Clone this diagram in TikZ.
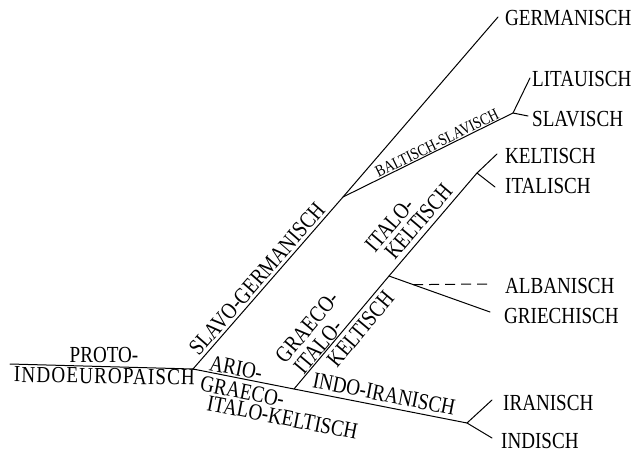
\documentclass[tikz,border=0pt]{standalone}
\usepackage{fontspec}
\setmainfont[FakeStretch=0.83]{Liberation Serif}
\usetikzlibrary{calc}
\begin{document}
\begin{tikzpicture}[x=1pt,y=-1pt,
  branch/.style={line width=1pt, line cap=round},
  albline/.style={line width=1pt, dash pattern=on 10pt off 6pt},
  leaf/.style={anchor=base west, inner sep=0pt, font=\fontsize{23}{25}\selectfont},
  lbl/.style={anchor=center, inner sep=0pt, font=\fontsize{23}{25}\selectfont},
  smalllbl/.style={anchor=center, inner sep=0pt, font=\fontsize{16.5}{18}\selectfont}]
\useasboundingbox (0,0) rectangle (637,455);

% branching points
\coordinate (root) at (10,364);
\coordinate (pie)  at (193,369);
\coordinate (sg)   at (343,197);
\coordinate (bs)   at (513,113);
\coordinate (agik) at (294,389);
\coordinate (gik)  at (389,276);
\coordinate (ik)   at (477,173);
\coordinate (ii)   at (467,423);

% free ends of the branches
\coordinate (eGer) at (498,17);
\coordinate (eLit) at (530,78);
\coordinate (eSla) at (528,116);
\coordinate (eKel) at (497,154);
\coordinate (eIta) at (495,187);
\coordinate (eGri) at (490,312);
\coordinate (eAlb) at (490,284);
\coordinate (eIra) at (492,400);
\coordinate (eInd) at (492,438);

% tree
\draw[branch] (root) -- (pie);
\draw[branch] (pie) -- (sg) -- (eGer);
\draw[branch] (sg) -- (bs) -- (eLit);
\draw[branch] (bs) -- (eSla);
\draw[branch] (pie) -- (agik) -- (ii);
\draw[branch] (agik) -- (gik) -- (ik) -- (eKel);
\draw[branch] (ik) -- (eIta);
\draw[branch] (gik) -- (eGri);
\coordinate (albStart) at ($(gik)!0.24!(eGri)$);
\draw[albline] (albStart) -- (eAlb);
\draw[branch] (ii) -- (eIra);
\draw[branch] (ii) -- (eInd);

% languages
\node[leaf] (tGer) at (505,25)  {GERMANISCH};
\node[leaf] (tLit) at (532,86)  {LITAUISCH};
\node[leaf] (tSla) at (532,126) {SLAVISCH};
\node[leaf] (tKel) at (505,163) {KELTISCH};
\node[leaf] (tIta) at (505,193) {ITALISCH};
\node[leaf] (tAlb) at (505,293) {ALBANISCH};
\node[leaf] (tGri) at (504,323) {GRIECHISCH};
\node[leaf] (tIra) at (503,410) {IRANISCH};
\node[leaf] (tInd) at (501,448) {INDISCH};

% intermediate groups
\node[lbl] (tProto) at (104,354.5) {PROTO-};
\node[lbl, rotate=-1] (tIE) at (104.5,376) {\addfontfeature{LetterSpace=5}INDOEUROPAISCH};
\node[lbl, rotate=48.9] (tSG) at (257,279) {SLAVO-GERMANISCH};
\node[smalllbl, rotate=26.3] (tBS) at (437,143) {BALTISCH-SLAVISCH};
\node[lbl, rotate=-11.15] (tAr1) at (236,368) {ARIO-};
\node[lbl, rotate=-11.15] (tAr2) at (242.5,391.5) {GRAECO-};
\node[lbl, rotate=-11.15] (tAr3) at (282.5,417.5) {ITALO-KELTISCH};
\node[lbl, rotate=-11.15] (tII) at (384,394) {INDO-IRANISCH};
\node[lbl, rotate=50] (tGik1) at (307,327) {GRAECO-};
\node[lbl, rotate=50] (tGik2) at (318,347) {ITALO-};
\node[lbl, rotate=50] (tGik3) at (360.5,329) {KELTISCH};
\node[lbl, rotate=49.5] (tIk1) at (389.5,225) {ITALO-};
\node[lbl, rotate=49.5] (tIk2) at (418.5,221.5) {KELTISCH};
\end{tikzpicture}
\end{document}
